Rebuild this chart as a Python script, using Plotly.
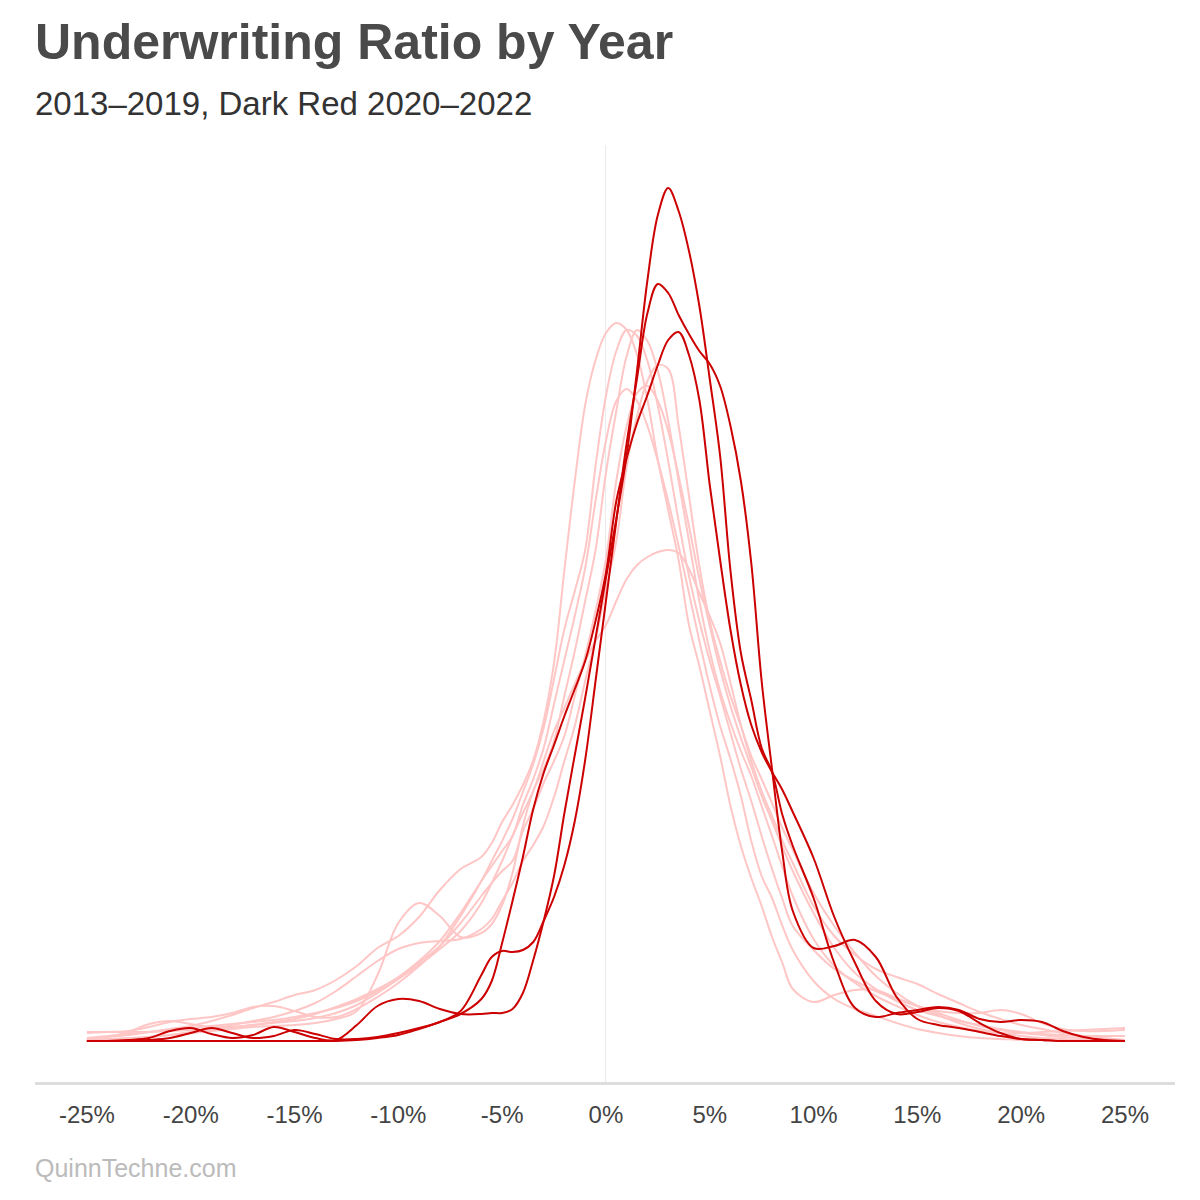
import plotly.graph_objects as go

# x grid (underwriting ratio, %)
x_pct = [-25, -24, -23, -22, -21, -20, -19, -18, -17, -16, -15, -14, -13, -12, -11, -10, -9, -8, -7, -6,
         -5.5, -5, -4.5, -4, -3.5, -3, -2.5, -2, -1.5, -1, -0.5, 0, 0.5, 1, 1.5, 2, 2.5, 3, 3.5, 4,
         4.5, 5, 5.5, 6, 6.5, 7, 7.5, 8, 8.5,
         9, 10, 11, 12, 13, 14, 15, 16, 17, 18, 19, 20, 21, 22, 23, 24, 25]

# density curves (relative height), 2013-2019 (light)
d2013 = ([2, 4, 6, 9, 12, 15, 20, 26, 33, 39, 46, 51, 61, 75, 93, 105, 124, 151, 172, 184]
         + [198, 219, 236, 256, 281, 320, 378, 471, 560, 636, 681, 708, 718, 711, 686, 641, 581, 531, 481, 416,
            375, 330, 285, 235, 195, 163, 135, 104, 78]
         + [52, 39, 46, 51, 51, 43, 35, 28, 21, 15, 11, 8, 6, 4, 3, 2, 1])
d2014 = ([8, 9, 10, 14, 19, 22, 24, 28, 34, 35, 30, 24, 24, 32, 44, 58, 75, 95, 125, 160]
         + [180, 200, 222, 249, 277, 313, 362, 412, 450, 491, 575, 645, 690, 711, 705, 680, 635, 580, 520, 465,
            420, 380, 345, 308, 272, 240, 205, 172, 142]
         + [115, 91, 72, 60, 50, 42, 35, 30, 28, 28, 31, 27, 18, 12, 10, 10, 11])
d2015 = ([0, 1, 2, 4, 6, 8, 10, 12, 14, 15, 16, 18, 22, 30, 66, 118, 138, 125, 104, 108]
         + [117, 136, 168, 215, 250, 272, 300, 345, 390, 440, 491, 568, 630, 685, 711, 700, 670, 620, 560, 500,
            440, 390, 350, 318, 290, 265, 235, 205, 174]
         + [145, 102, 75, 58, 45, 35, 26, 19, 14, 10, 8, 8, 9, 10, 11, 12, 13])
d2016 = ([1, 2, 3, 4, 6, 9, 12, 16, 20, 24, 30, 38, 50, 65, 80, 92, 98, 100, 102, 112]
         + [122, 140, 158, 180, 196, 215, 244, 280, 315, 360, 402, 452, 500, 575, 625, 660, 676, 672, 615, 545,
            475, 420, 380, 345, 315, 285, 262, 238, 213]
         + [191, 148, 115, 88, 65, 48, 35, 26, 18, 12, 8, 5, 3, 2, 1, 1, 0])
d2017 = ([2, 4, 9, 17, 20, 17, 14, 14, 16, 19, 22, 27, 34, 42, 52, 64, 80, 100, 128, 160]
         + [175, 190, 205, 236, 262, 293, 337, 381, 425, 473, 540, 600, 640, 652, 640, 615, 580, 540, 495, 448,
            400, 355, 315, 282, 245, 200, 165, 143, 115]
         + [91, 60, 42, 32, 25, 18, 12, 8, 5, 3, 2, 1, 1, 0, 0, 0, 0])
d2018 = ([9, 9, 9, 9, 10, 11, 12, 14, 16, 18, 20, 23, 28, 36, 48, 62, 78, 95, 118, 145]
         + [158, 170, 180, 210, 232, 258, 280, 305, 345, 385, 430, 482, 560, 615, 648, 655, 640, 610, 565, 515,
            462, 415, 372, 335, 303, 274, 245, 220, 194]
         + [170, 128, 93, 68, 52, 40, 31, 25, 20, 16, 12, 9, 7, 6, 5, 5, 5])
d2019 = ([3, 5, 7, 9, 11, 13, 15, 17, 19, 21, 24, 28, 33, 40, 50, 62, 76, 92, 110, 138]
         + [158, 180, 205, 228, 250, 280, 310, 333, 357, 380, 400, 416, 440, 462, 476, 484, 489, 491, 488, 472,
            448, 425, 398, 358, 316, 280, 250, 225, 200]
         + [178, 135, 105, 86, 72, 64, 57, 47, 38, 29, 22, 16, 12, 8, 5, 3, 1])

# 2020-2022 (dark red)
d2020 = ([0, 0, 1, 3, 10, 13, 7, 3, 6, 14, 9, 3, 1, 16, 35, 42, 40, 32, 27, 27]
         + [28, 28, 32, 48, 81, 120, 165, 228, 286, 343, 403, 463, 522, 586, 671, 761, 826, 853, 830, 790,
            735, 662, 585, 470, 388, 341, 293, 269, 226]
         + [195, 143, 78, 33, 24, 28, 31, 34, 31, 22, 19, 21, 19, 10, 4, 1, 0])
d2021 = ([0, 0, 0, 1, 3, 8, 13, 8, 3, 5, 11, 7, 2, 2, 4, 8, 13, 19, 30, 66]
         + [84, 90, 89, 91, 99, 120, 144, 176, 220, 281, 360, 440, 520, 598, 663, 728, 757, 748, 726, 707,
            690, 677, 655, 615, 560, 478, 360, 272, 188]
         + [130, 93, 95, 101, 84, 44, 22, 16, 13, 9, 5, 2, 1, 0, 0, 0, 0])
d2022 = ([0, 0, 0, 0, 0, 0, 0, 0, 0, 0, 0, 0, 0, 1, 3, 6, 12, 19, 27, 42]
         + [60, 98, 140, 184, 232, 268, 296, 325, 352, 380, 420, 468, 540, 583, 618, 646, 676, 701, 709, 686,
            641, 556, 481, 411, 356, 316, 289, 269, 251]
         + [229, 183, 124, 78, 40, 27, 29, 33, 30, 18, 8, 2, 1, 0, 0, 0, 0])

light_years = [d2013, d2014, d2015, d2016, d2017, d2018, d2019]
dark_years = [d2020, d2021, d2022]

tick_vals = [-25, -20, -15, -10, -5, 0, 5, 10, 15, 20, 25]
tick_text = ["-25%", "-20%", "-15%", "-10%", "-5%", "0%", "5%", "10%", "15%", "20%", "25%"]

LIGHT = "#ffc6c6"
DARK = "#cc0000"
FONT = "Liberation Sans, Arial, sans-serif"

fig = go.Figure()
for ys in light_years:
    fig.add_trace(go.Scatter(x=x_pct, y=ys, mode="lines",
                             line=dict(color=LIGHT, width=2, shape="spline", smoothing=1),
                             hoverinfo="skip"))
for ys in dark_years:
    fig.add_trace(go.Scatter(x=x_pct, y=ys, mode="lines",
                             line=dict(color=DARK, width=2, shape="spline", smoothing=1),
                             hoverinfo="skip"))

# page body has an 8px margin, margins below compensate for it
fig.update_layout(
    width=1200, height=1200,
    margin=dict(l=27, r=33, t=137, b=126),
    paper_bgcolor="white", plot_bgcolor="white",
    showlegend=False,
    font=dict(family=FONT, color="#444444"),
    xaxis=dict(range=[-27.5, 27.41], tickvals=tick_vals, ticktext=tick_text,
               showgrid=False, zeroline=True, zerolinecolor="#ebebeb", zerolinewidth=1,
               showline=True, linecolor="#dddddd", linewidth=3,
               ticks="", ticklabelstandoff=9,
               tickfont=dict(size=24, color="#444444")),
    yaxis=dict(range=[-41, 896], visible=False, showgrid=False, zeroline=False),
    annotations=[
        dict(text="<b>Underwriting Ratio by Year</b>", xref="paper", yref="paper",
             x=-0.002, y=1.1099, xanchor="left", yanchor="middle", showarrow=False,
             font=dict(size=50, color="#4a4a4a", family=FONT)),
        dict(text="2013–2019, Dark Red 2020–2022", xref="paper", yref="paper",
             x=-0.002, y=1.0438, xanchor="left", yanchor="middle", showarrow=False,
             font=dict(size=33, color="#333333", family=FONT)),
        dict(text="QuinnTechne.com", xref="paper", yref="paper",
             x=-0.002, y=-0.0918, xanchor="left", yanchor="middle", showarrow=False,
             font=dict(size=25, color="#bbbbbb", family=FONT)),
    ],
)

fig.write_html("out.html")
